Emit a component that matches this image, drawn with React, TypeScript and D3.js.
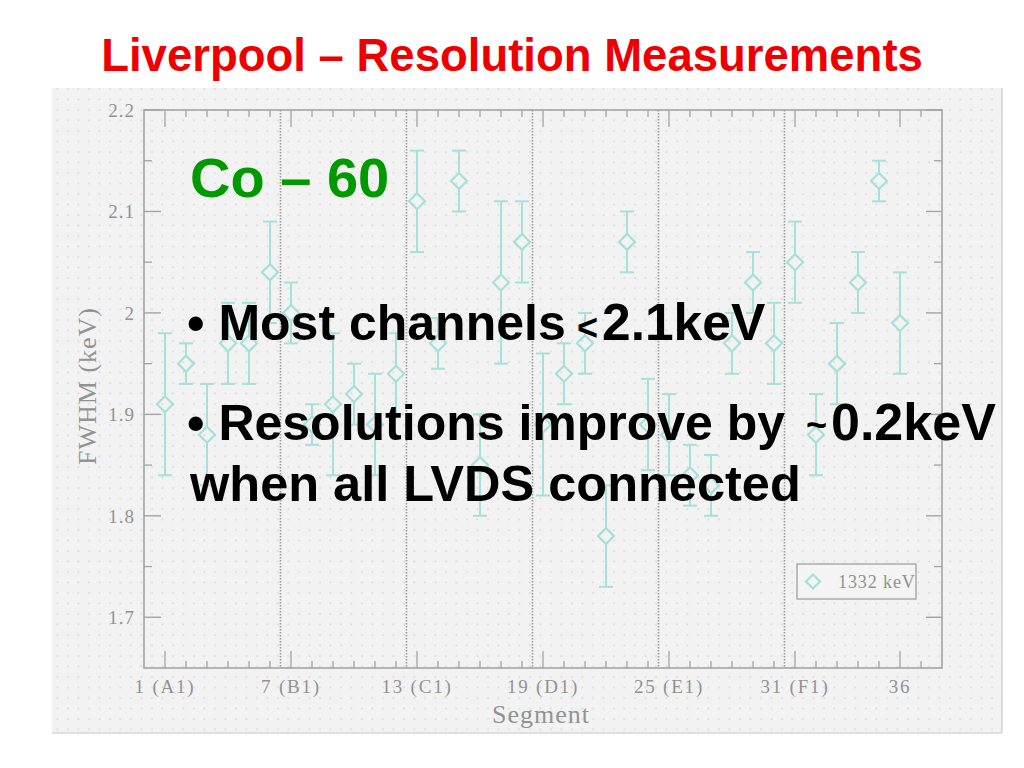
import React from "react";
import * as d3 from "d3";

const segments = [1,2,3,4,5,6,7,8,9,10,11,12,13,14,15,16,17,18,19,20,21,22,23,24,25,26,27,28,29,30,31,32,33,34,35,36];
const fwhm = [1.91,1.95,1.88,1.97,1.97,2.04,2.00,1.89,1.91,1.92,1.89,1.94,2.11,1.97,2.13,1.85,2.03,2.07,1.89,1.94,1.97,1.78,2.07,1.89,1.88,1.84,1.83,1.97,2.03,1.97,2.05,1.88,1.95,2.03,2.13,1.99];
const fwhmErr = [0.07,0.02,0.05,0.04,0.04,0.05,0.03,0.02,0.07,0.03,0.05,0.04,0.05,0.025,0.03,0.05,0.08,0.04,0.07,0.03,0.03,0.05,0.03,0.045,0.04,0.03,0.03,0.03,0.03,0.04,0.04,0.04,0.04,0.03,0.02,0.05];
const xTickValues = [1,7,13,19,25,31,36];
const xTickLabels = ["1 (A1)","7 (B1)","13 (C1)","19 (D1)","25 (E1)","31 (F1)","36"];
const yTickValues = [1.7,1.8,1.9,2.0,2.1,2.2];
const yTickLabels = ["1.7","1.8","1.9","2","2.1","2.2"];
const yMinorValues = [1.75,1.85,1.95,2.05,2.15];
const separators = [6.5,12.5,18.5,24.5,30.5];
const legendLabel = "1332 keV";

const W = 1024, H = 768;
const x = d3.scaleLinear().domain([0, 38]).range([144, 942]);
const y = d3.scaleLinear().domain([1.65, 2.2]).range([668, 110]);

const axisCol = "#a3a3a3";
const txtCol = "#929292";
const dataCol = "#a6e0da";
const serif = "'Liberation Serif', 'DejaVu Serif', serif";
const sans = "'Liberation Sans', Arial, sans-serif";

function diamond(cx: number, cy: number, r: number) {
  return `M${cx},${cy - r}L${cx + r},${cy}L${cx},${cy + r}L${cx - r},${cy}Z`;
}

export default function App() {
  const [x0, x1] = x.range();
  const [yb, yt] = y.range();
  const intTicks = d3.range(1, 38);
  return (
    <svg width={W} height={H} style={{ position: "absolute", left: 0, top: 0 }} xmlns="http://www.w3.org/2000/svg">
      <defs>
        <pattern id="dots" width="10.5" height="10.5" patternUnits="userSpaceOnUse">
          <rect width="10.5" height="10.5" fill="#f2f2f2" />
          <circle cx="5" cy="5" r="0.9" fill="#d6d6d6" />
        </pattern>
      </defs>
      <rect width={W} height={H} fill="#ffffff" />
      <rect x={52} y={88} width={950} height={645} fill="url(#dots)" />
      <line x1={1002} y1={88} x2={1002} y2={733} stroke="#c8c8c8" strokeWidth={1.2} />
      <line x1={52} y1={733} x2={1002} y2={733} stroke="#c8c8c8" strokeWidth={1.2} />

      {/* separators */}
      {separators.map((s) => (
        <line key={s} x1={x(s)} x2={x(s)} y1={yt} y2={yb} stroke="#9a9a9a" strokeWidth={1.6} strokeDasharray="1.5,1.5" />
      ))}

      {/* frame */}
      <rect x={x0} y={yt} width={x1 - x0} height={yb - yt} fill="none" stroke={axisCol} strokeWidth={1.6} />

      {/* x ticks top & bottom */}
      {intTicks.map((t) => {
        const major = xTickValues.includes(t);
        const len = major ? 17 : 7;
        return (
          <g key={t} stroke={axisCol} strokeWidth={1.3}>
            <line x1={x(t)} x2={x(t)} y1={yt} y2={yt + len} />
            <line x1={x(t)} x2={x(t)} y1={yb} y2={yb - len} />
          </g>
        );
      })}
      {/* y ticks left & right */}
      {yTickValues.map((v) => (
        <g key={v} stroke={axisCol} strokeWidth={1.4}>
          <line x1={x0} x2={x0 + 17} y1={y(v)} y2={y(v)} />
          <line x1={x1} x2={x1 - 16} y1={y(v)} y2={y(v)} />
        </g>
      ))}
      {yMinorValues.map((v) => (
        <g key={v} stroke={axisCol} strokeWidth={1.3}>
          <line x1={x0} x2={x0 + 8} y1={y(v)} y2={y(v)} />
          <line x1={x1} x2={x1 - 8} y1={y(v)} y2={y(v)} />
        </g>
      ))}

      {/* tick labels */}
      {xTickValues.map((t, i) => (
        <text key={t} x={x(t)} y={693} textAnchor="middle" fontFamily={serif} fontSize={19} letterSpacing={1.8} fill={txtCol}>
          {xTickLabels[i]}
        </text>
      ))}
      {yTickValues.map((v, i) => (
        <text key={v} x={135} y={y(v) + 7} textAnchor="end" fontFamily={serif} fontSize={19} letterSpacing={1} fill={txtCol}>
          {yTickLabels[i]}
        </text>
      ))}
      <text x={541} y={723} textAnchor="middle" fontFamily={serif} fontSize={26} letterSpacing={1} fill={txtCol}>Segment</text>
      <text transform={`translate(96,386) rotate(-90)`} textAnchor="middle" fontFamily={serif} fontSize={26} letterSpacing={1} fill={txtCol}>FWHM (keV)</text>

      {/* data */}
      {segments.map((s, i) => {
        const cx = x(s);
        const cy = y(fwhm[i]);
        const top = y(fwhm[i] + fwhmErr[i]);
        const bot = y(fwhm[i] - fwhmErr[i]);
        return (
          <g key={s} stroke={dataCol} fill="none" strokeWidth={2}>
            {top < cy - 8 && <line x1={cx} x2={cx} y1={top} y2={cy - 8} />}
            {bot > cy + 8 && <line x1={cx} x2={cx} y1={cy + 8} y2={bot} />}
            <line x1={cx - 7} x2={cx + 7} y1={top} y2={top} />
            <line x1={cx - 7} x2={cx + 7} y1={bot} y2={bot} />
            <path d={diamond(cx, cy, 8)} strokeWidth={2.2} />
          </g>
        );
      })}

      {/* legend */}
      <rect x={797} y={564} width={119} height={35} fill="#f4f4f4" stroke="#a0a0a0" strokeWidth={1.3} />
      <path d={diamond(813, 581.5, 7)} fill="none" stroke={dataCol} strokeWidth={2.2} />
      <text x={838} y={588} fontFamily={serif} fontSize={18} letterSpacing={0.9} fill={txtCol}>{legendLabel}</text>

      {/* slide text */}
      <text x={512} y={71} textAnchor="middle" fontFamily={sans} fontWeight="bold" fontSize={45.5} fill="#ee0000">
        Liverpool – Resolution Measurements
      </text>
      <text x={190} y={197} fontFamily={sans} fontWeight="bold" fontSize={56} fill="#009900">Co – 60</text>
      <g fontFamily={sans} fontWeight="bold" fill="#000000">
        <text x={187} y={340} fontSize={50}>• Most channels</text>
        <text x={577} y={340} fontSize={36}>&lt;</text>
        <text x={602} y={340} fontSize={51.5}>2.1keV</text>
        <text x={187} y={440} fontSize={50}>• Resolutions improve by</text>
        <text x={806} y={437} fontSize={36}>~</text>
        <text x={831} y={440} fontSize={52}>0.2keV</text>
        <text x={190} y={501} fontSize={50.5}>when all LVDS connected</text>
      </g>
    </svg>
  );
}
